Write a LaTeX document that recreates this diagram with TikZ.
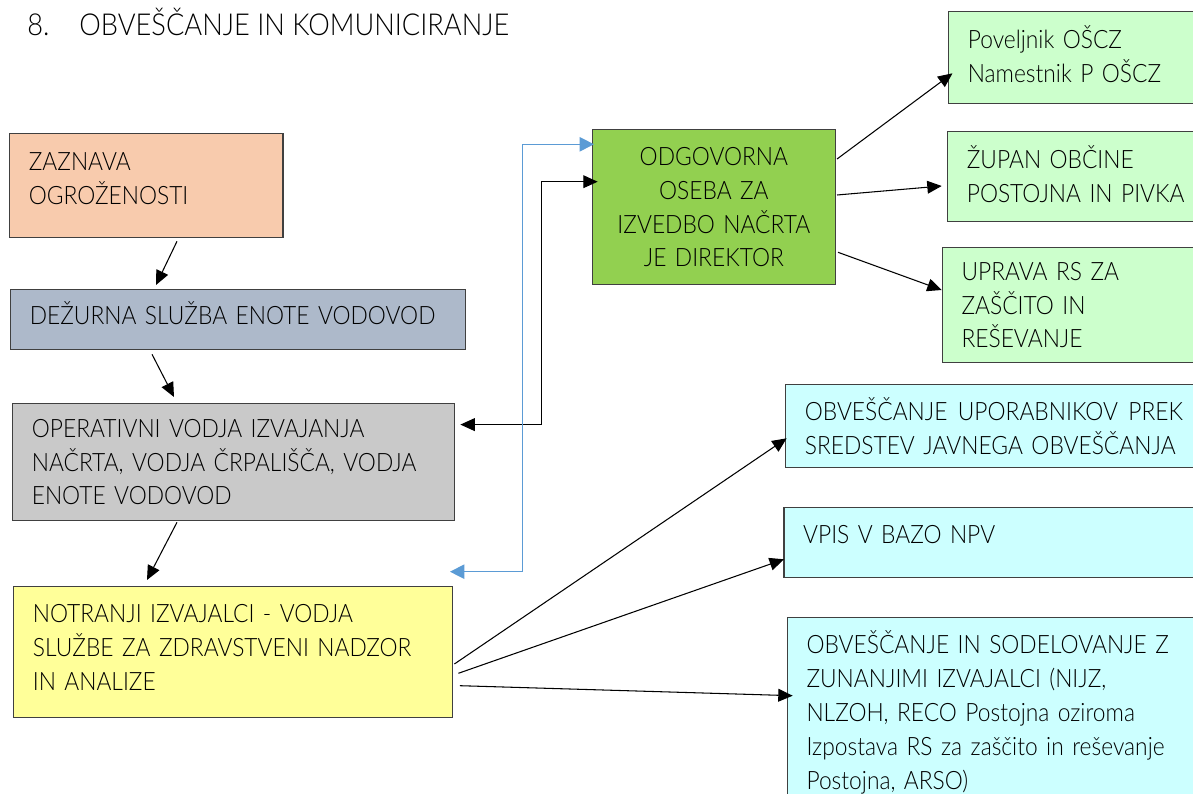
\documentclass[tikz,border=0pt]{standalone}
\usepackage{fontspec}
\setmainfont{Lato Light}[FakeStretch=0.9]
\usetikzlibrary{arrows.meta,calc}
\lefthyphenmin=64

\definecolor{zaznavafill}{HTML}{F8CBAD}
\definecolor{dezurnafill}{HTML}{ADB9CA}
\definecolor{operfill}{HTML}{C9C9C9}
\definecolor{notranjifill}{HTML}{FFFF99}
\definecolor{odgfill}{HTML}{92D050}
\definecolor{zelenafill}{HTML}{CCFFCC}
\definecolor{modrafill}{HTML}{CCFFFF}
\definecolor{linkblue}{HTML}{5B9BD5}

\tikzset{
  box/.style={draw=black!75, line width=0.9pt, anchor=north west, align=left,
    inner xsep=0.48cm, inner ysep=0pt, font=\fontsize{18}{24.1}\selectfont},
  link/.style={line width=0.75pt, -{Triangle[length=0.36cm,width=0.32cm]}},
}

\begin{document}
\begin{tikzpicture}[x=0.025cm, y=-0.025cm]
  \fill[white] (0,0) rectangle (1193,794);
  \useasboundingbox (0,0) rectangle (1193,794);
  % title
  \node[anchor=base west, inner sep=0pt, font=\fontsize{21.5}{26}\selectfont] (naslov) at (27,36) {8.\hspace{0.75cm}OBVEŠČANJE IN KOMUNICIRANJE};
  % left column
  \node[box, fill=zaznavafill, text width=5.87cm, minimum height=2.6cm, text depth=1.2cm] (zaznava) at (9,133) {ZAZNAVA\\OGROŽENOSTI};
  \node[box, fill=dezurnafill, text width=10.415cm, minimum height=1.5cm, text depth=0.33cm] (dezurna) at (10,289) {DEŽURNA SLUŽBA ENOTE VODOVOD};
  \node[box, fill=operfill, text width=10.09cm, minimum height=2.925cm] (operativni) at (12,403) {OPERATIVNI VODJA IZVAJANJA\\NAČRTA, VODJA ČRPALIŠČA, VODJA\\ENOTE VODOVOD};
  \node[box, fill=notranjifill, text width=10.015cm, minimum height=3.275cm, text depth=1.925cm] (notranji) at (13,586) {NOTRANJI IZVAJALCI - VODJA\\SLUŽBE ZA ZDRAVSTVENI NADZOR\\IN ANALIZE};
  % middle
  \node[box, fill=odgfill, align=center, text width=5.115cm, minimum height=3.875cm] (odgovorna) at (591.7,129) {ODGOVORNA\\OSEBA ZA\\IZVEDBO NAČRTA\\JE DIREKTOR};
  % right column
  \node[box, fill=zelenafill, text width=7cm, minimum height=2.3cm, text depth=1.04cm] (povelj) at (948,11) {Poveljnik OŠCZ\\Namestnik P OŠCZ};
  \node[box, fill=zelenafill, text width=7cm, minimum height=2.25cm, text depth=0.975cm] (zupan) at (947,131) {ŽUPAN OBČINE\\POSTOJNA IN PIVKA};
  \node[box, fill=zelenafill, text width=7cm, minimum height=2.875cm] (uprava) at (941.7,247) {UPRAVA RS ZA\\ZAŠČITO IN\\REŠEVANJE};
  \node[box, fill=modrafill, text width=9.45cm, minimum height=2.075cm] (obvup) at (785,384) {OBVEŠČANJE\hfill UPORABNIKOV\hfill PREK\\SREDSTEV JAVNEGA OBVEŠČANJA};
  \node[box, fill=modrafill, text width=9.5cm, minimum height=1.75cm, text depth=0.415cm] (vpis) at (783.3,507) {VPIS V BAZO NPV};
  \node[box, fill=modrafill, text width=9.5cm, minimum height=4.75cm] (zunanji) at (786.7,616.7) {OBVEŠČANJE IN SODELOVANJE Z\\ZUNANJIMI IZVAJALCI (NIJZ,\\NLZOH, RECO Postojna oziroma\\Izpostava RS za zaščito in reševanje\\Postojna, ARSO)};
  % vertical chain
  \draw[link] ($(zaznava.south west)+(168,3)$) -- ($(dezurna.north west)+(146,-4)$);
  \draw[link] ($(dezurna.south west)+(142,4)$) -- ($(operativni.north west)+(162,-6)$);
  \draw[link] ($(operativni.south west)+(165,1)$) -- ($(notranji.north west)+(134,-6)$);
  % elbow links to the director
  \draw[line width=0.75pt, {Triangle[length=0.36cm,width=0.32cm]}-{Triangle[length=0.36cm,width=0.32cm]}]
    ($(operativni.north east)+(5,21.6)$) -- ++(81.4,0) |- ($(odgovorna.north west)+(6,52.7)$);
  \draw[linkblue, line width=0.75pt, {Triangle[length=0.36cm,width=0.36cm]}-{Triangle[length=0.36cm,width=0.36cm]}]
    ($(notranji.north east)+(-3.4,-14.3)$) -- ++(72.7,0) |- ($(odgovorna.north west)+(2.3,15.3)$);
  % fan out from the director
  \foreach \cilj/\sx/\sy/\tx/\ty in {povelj/1/30/4.5/62.3, zupan/1/66/-5.3/55, uprava/2/123.3/0/43} {
    \draw[link] ($(odgovorna.north east)+(\sx,\sy)$) -- ($(\cilj.north west)+(\tx,\ty)$);
  }
  % fan out from internal staff
  \foreach \cilj/\sx/\sy/\tx/\ty in {obvup/1/78/1.7/54.3, vpis/5/87.3/0.7/52.3, zunanji/6.6/99.7/6/79} {
    \draw[link] ($(notranji.north east)+(\sx,\sy)$) -- ($(\cilj.north west)+(\tx,\ty)$);
  }
\end{tikzpicture}
\end{document}
